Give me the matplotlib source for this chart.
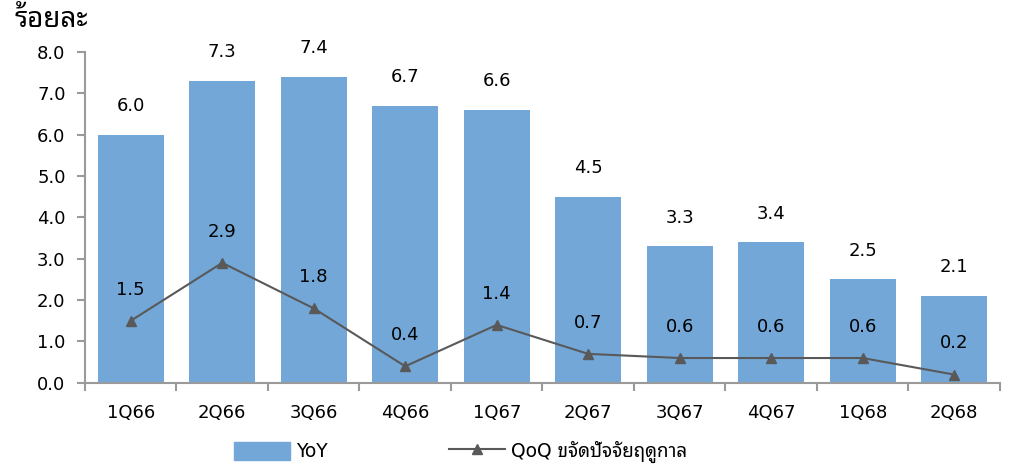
import matplotlib.pyplot as plt
import numpy as np
from matplotlib import font_manager
from matplotlib.lines import Line2D
from matplotlib.patches import Patch

# pick an installed font that has Thai glyphs
names = {f.name for f in font_manager.fontManager.ttflist}
thai_font = 'Athiti'
for cand in ['Noto Sans Thai Looped', 'Noto Sans Thai', 'Sarabun', 'Bai Jamjuree', 'Athiti']:
    if cand in names:
        thai_font = cand
        break
plt.rcParams['font.family'] = ['DejaVu Sans', thai_font]

quarters = ['1Q66', '2Q66', '3Q66', '4Q66', '1Q67', '2Q67', '3Q67', '4Q67', '1Q68', '2Q68']
yoy = [6.0, 7.3, 7.4, 6.7, 6.6, 4.5, 3.3, 3.4, 2.5, 2.1]
qoq = [1.5, 2.9, 1.8, 0.4, 1.4, 0.7, 0.6, 0.6, 0.6, 0.2]

bar_color = '#72a7d8'
line_color = '#595959'
axis_color = '#9a9a9a'

fig = plt.figure(figsize=(10.12, 4.75), dpi=100)
ax = fig.add_axes([0.084, 0.194, 0.904, 0.697])

x = np.arange(len(quarters))
ax.bar(x, yoy, width=0.72, color=bar_color, zorder=2)
ax.plot(x, qoq, color=line_color, lw=1.5, marker='^', ms=7.5, zorder=3)

for xi, v in zip(x, yoy):
    ax.annotate(f'{v:.1f}', (xi, v), xytext=(0, 14), textcoords='offset points',
                ha='center', va='bottom', fontsize=13)
for xi, v in zip(x, qoq):
    ax.annotate(f'{v:.1f}', (xi, v), xytext=(0, 16), textcoords='offset points',
                ha='center', va='bottom', fontsize=13)

ax.set_xlim(-0.5, len(quarters) - 0.5)
ax.set_ylim(0, 8)
ax.set_yticks(np.arange(0, 8.1, 1.0))
ax.set_yticklabels([f'{v:.1f}' for v in np.arange(0, 8.1, 1.0)], fontsize=13)
ax.set_xticks(x)
ax.set_xticklabels(quarters, fontsize=13)
ax.set_xticks(np.arange(-0.5, len(quarters), 1.0), minor=True)
ax.tick_params(axis='x', which='major', length=0, pad=15)
ax.tick_params(axis='x', which='minor', length=6, color=axis_color, width=1.5)
ax.tick_params(axis='y', length=6, color=axis_color, width=1.5, pad=8)

for s in ['top', 'right']:
    ax.spines[s].set_visible(False)
for s in ['left', 'bottom']:
    ax.spines[s].set_color(axis_color)
    ax.spines[s].set_linewidth(1.5)

fig.text(0.014, 0.958, 'ร้อยละ', fontsize=20, fontweight='bold', ha='left', va='center',
         family=[thai_font, 'DejaVu Sans'])

handles = [Patch(color=bar_color, label='YoY'),
           Line2D([0], [0], color=line_color, lw=1.5, marker='^', ms=7.5,
                  label='QoQ ขจัดปัจจัยฤดูกาล')]
fig.legend(handles=handles, loc='center', bbox_to_anchor=(0.455, 0.048), ncol=2,
           frameon=False, fontsize=13.5, columnspacing=6.5, handlelength=3.0,
           handletextpad=0.3, handleheight=1.1)

fig.savefig('out.png', dpi=100)
